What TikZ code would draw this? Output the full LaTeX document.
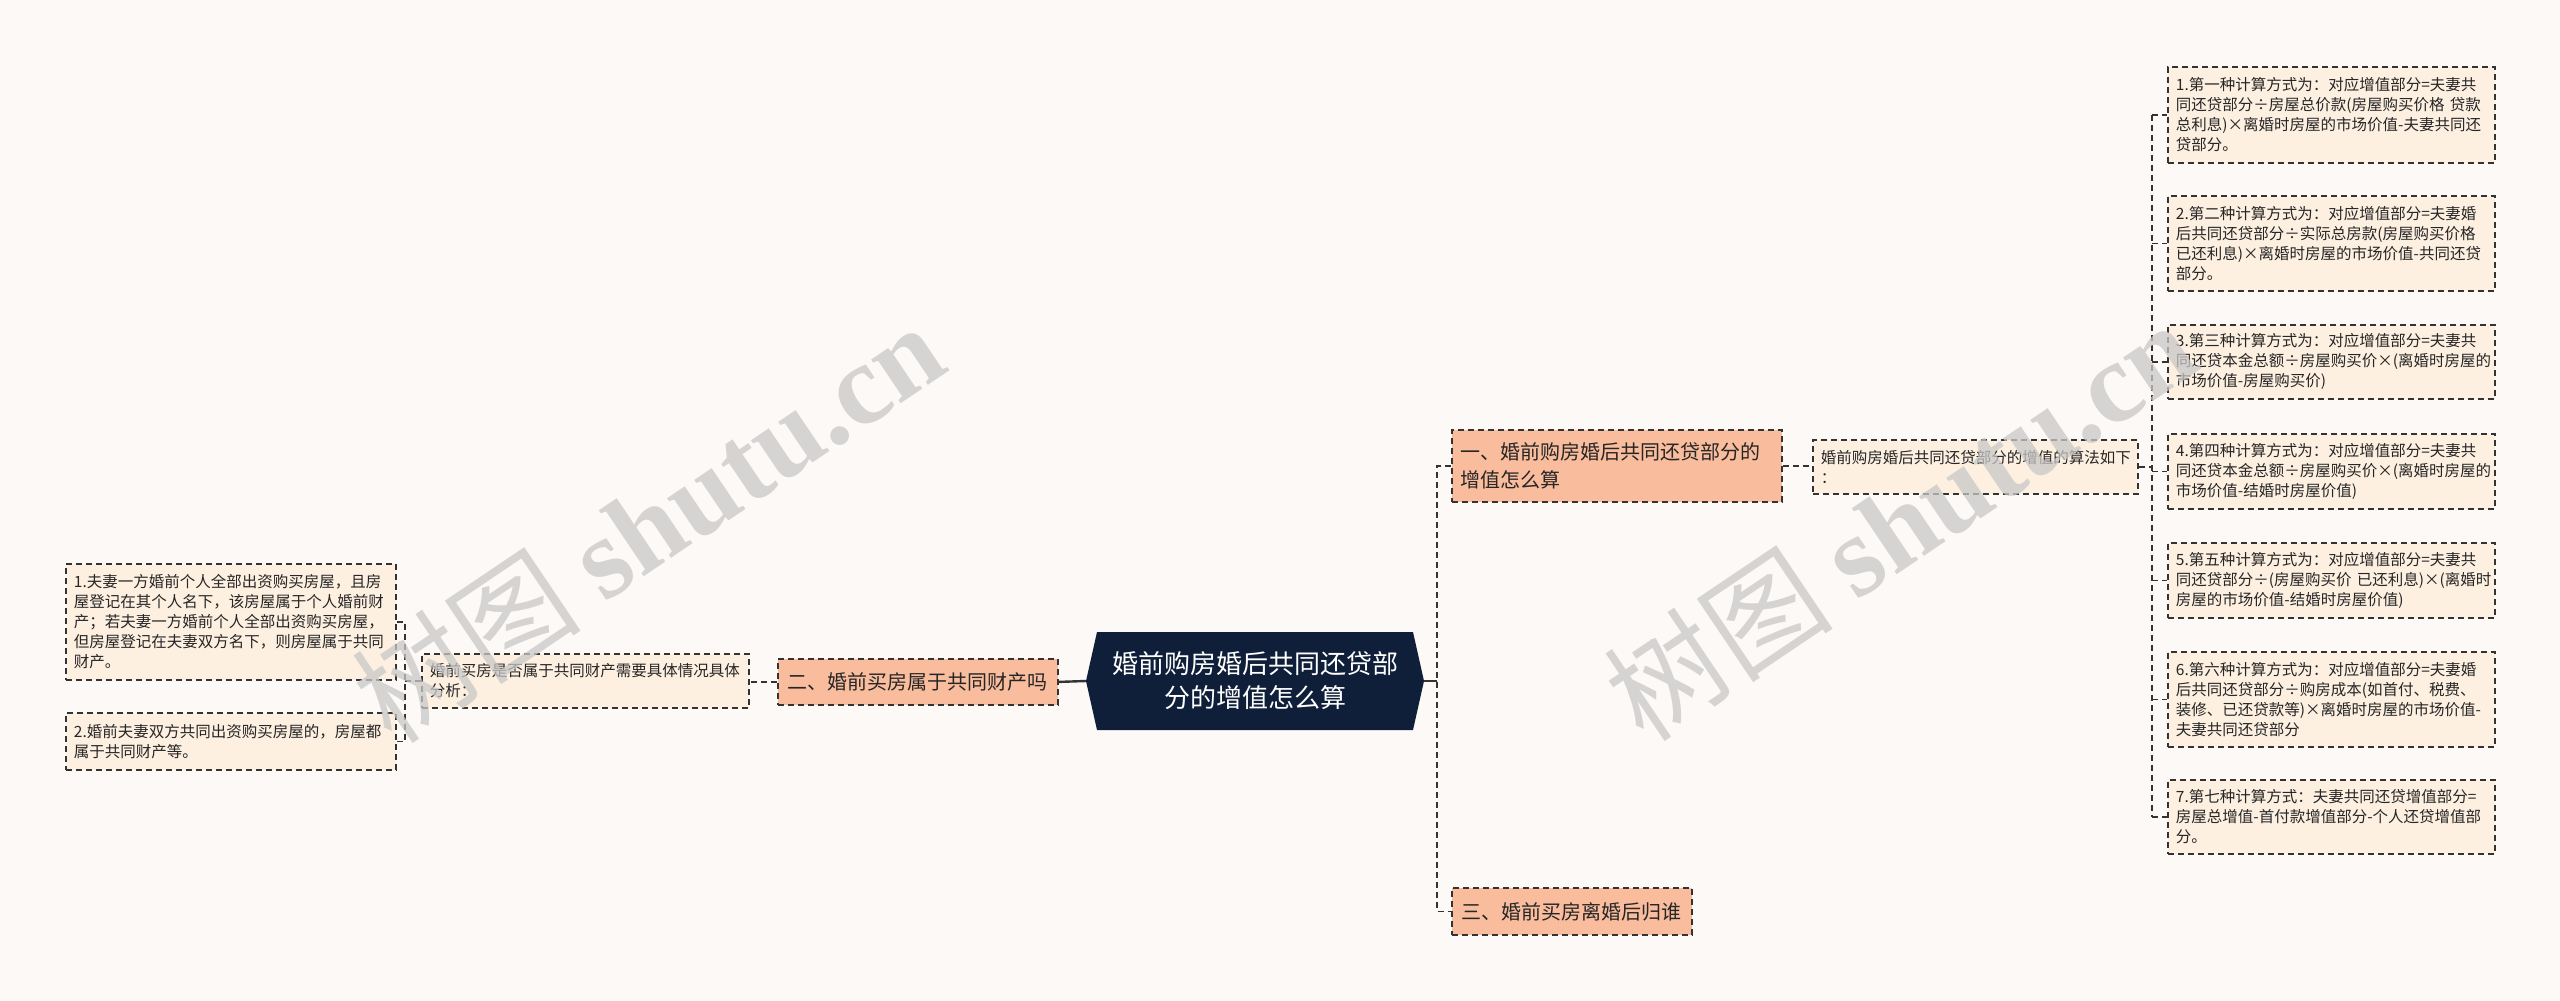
\documentclass[tikz,border=0pt]{standalone}
\usepackage{fontspec}
\setmainfont{Noto Sans CJK SC}
\newfontfamily\wmlatin{Liberation Serif}
\definecolor{bgc}{HTML}{FCF9F7}
\definecolor{linec}{HTML}{333333}
\definecolor{leafc}{HTML}{FDF0E1}
\definecolor{mainc}{HTML}{F9BC9D}
\definecolor{rootc}{HTML}{0F1F3A}
\definecolor{wmc}{HTML}{C8C8C8}
\begin{document}
\begin{tikzpicture}[x=1pt,y=-1pt,
  boxbase/.style={draw=linec, dash pattern=on 6pt off 4pt, line width=1.8pt, anchor=north west, inner ysep=0pt, text=black!85},
  leaf/.style={boxbase, fill=leafc, font=\fontsize{15.5}{20}\selectfont, align=left, inner xsep=8pt},
  topic/.style={boxbase, fill=mainc, font=\fontsize{20}{28}\selectfont, inner xsep=9pt},
  conn/.style={draw=linec, line width=1.8pt, dash pattern=on 6pt off 4pt},
  solidconn/.style={draw=linec, line width=2.4pt},
  wm/.style={text=wmc, opacity=0.75, rotate=34, font=\fontsize{115}{120}\selectfont}
]
\fill[bgc] (0,0) rectangle (2560,1001);
\useasboundingbox (0,0) rectangle (2560,1001);

% root
\fill[rootc] (1097,632) -- (1413,632) -- (1424,681) -- (1413,730) -- (1097,730) -- (1086,681) -- cycle;
\node[text=white, font=\fontsize{26}{34}\selectfont, align=center, minimum width=338pt, minimum height=98pt, inner sep=0pt] (c) at (1255,681) {婚前购房婚后共同还贷部\\分的增值怎么算};

% topics
\node[topic, align=left, text width=312pt, minimum height=72pt] (n1) at (1451,429) {一、婚前购房婚后共同还贷部分的\\增值怎么算};
\node[topic, minimum width=280pt, minimum height=46pt] (n2) at (777,658) {二、婚前买房属于共同财产吗};
\node[topic, minimum width=240pt, minimum height=47pt] (n3) at (1451,887) {三、婚前买房离婚后归谁};

% middle
\node[leaf, text width=309pt, minimum height=54pt] (m1) at (1812,439) {婚前购房婚后共同还贷部分的增值的算法如下\\：};
\node[leaf, text width=311pt, minimum height=54pt] (m2) at (421,653) {婚前买房是否属于共同财产需要具体情况具体\\分析：};

% right leaves
\node[leaf, text width=311pt, minimum height=96pt] (r1) at (2167,66) {1.第一种计算方式为：对应增值部分=夫妻共\\同还贷部分÷房屋总价款(房屋购买价格~贷款\\总利息)×离婚时房屋的市场价值-夫妻共同还\\贷部分。};
\node[leaf, text width=311pt, minimum height=95pt] (r2) at (2167,195) {2.第二种计算方式为：对应增值部分=夫妻婚\\后共同还贷部分÷实际总房款(房屋购买价格\\已还利息)×离婚时房屋的市场价值-共同还贷\\部分。};
\node[leaf, text width=311pt, minimum height=74pt] (r3) at (2167,324) {3.第三种计算方式为：对应增值部分=夫妻共\\同还贷本金总额÷房屋购买价×(离婚时房屋的\\市场价值-房屋购买价)};
\node[leaf, text width=311pt, minimum height=75pt] (r4) at (2167,433) {4.第四种计算方式为：对应增值部分=夫妻共\\同还贷本金总额÷房屋购买价×(离婚时房屋的\\市场价值-结婚时房屋价值)};
\node[leaf, text width=311pt, minimum height=75pt] (r5) at (2167,542) {5.第五种计算方式为：对应增值部分=夫妻共\\同还贷部分÷(房屋购买价~已还利息)×(离婚时\\房屋的市场价值-结婚时房屋价值)};
\node[leaf, text width=311pt, minimum height=95pt] (r6) at (2167,651) {6.第六种计算方式为：对应增值部分=夫妻婚\\后共同还贷部分÷购房成本(如首付、税费、\\装修、已还贷款等)×离婚时房屋的市场价值-\\夫妻共同还贷部分};
\node[leaf, text width=311pt, minimum height=74pt] (r7) at (2167,779) {7.第七种计算方式：夫妻共同还贷增值部分=\\房屋总增值-首付款增值部分-个人还贷增值部\\分。};

% left leaves
\node[leaf, text width=314pt, minimum height=116pt] (l1) at (65,563) {1.夫妻一方婚前个人全部出资购买房屋，且房\\屋登记在其个人名下，该房屋属于个人婚前财\\产；若夫妻一方婚前个人全部出资购买房屋，\\但房屋登记在夫妻双方名下，则房屋属于共同\\财产。};
\node[leaf, text width=314pt, minimum height=57pt] (l2) at (65,712) {2.婚前夫妻双方共同出资购买房屋的，房屋都\\属于共同财产等。};

% trunk coordinates
\coordinate (t1) at (1437,681);
\coordinate (t2) at (2152,466);
\coordinate (t3) at (405,681);

% connectors
\draw[solidconn] (c.east) -- (t1);
\draw[conn] (n1.west) -- (n1.west -| t1) -- (n3.west -| t1) -- (n3.west);
\draw[solidconn] (c.west) -- (n2.east);
\draw[conn] (n1.east) -- (n1.east -| m1.west);
\draw[conn] (m1.east) -- (m1.east -| t2);
\draw[conn] (r1.west -| t2) -- (r7.west -| t2);
\foreach \r in {r1,r2,r3,r4,r5,r6,r7}{
  \draw[conn] (\r.west -| t2) -- (\r.west);
}
\draw[conn] (n2.west) -- (n2.west -| m2.east);
\draw[conn] (m2.west) -- (t3);
\draw[conn] (l1.east) -- (l1.east -| t3) -- (l2.east -| t3) -- (l2.east);

% watermark
\node[wm] (w1) at (648,522) {树图 {\wmlatin\bfseries shutu.cn}};
\node[wm] (w2) at (1900,520) {树图 {\wmlatin\bfseries shutu.cn}};
\end{tikzpicture}
\end{document}
